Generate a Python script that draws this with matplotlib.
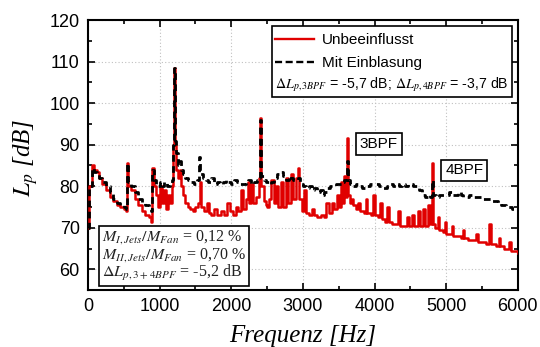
import numpy as np
import matplotlib
matplotlib.use("Agg")
import matplotlib.pyplot as plt
from matplotlib.lines import Line2D
from matplotlib.patches import Rectangle
from matplotlib.ticker import MultipleLocator

# Spektrum ohne Einblasung (rot)
freq_ref = [0, 20, 50, 80, 120, 160, 200, 250, 300, 350, 400, 450, 500, 530, 545, 560,
            600, 650, 700, 750, 800, 850, 880, 900, 920, 950, 970, 1000, 1030, 1060, 1090,
            1120, 1150, 1170, 1190, 1200, 1210, 1230, 1260, 1280, 1300, 1330, 1360, 1400,
            1430, 1470, 1500, 1530, 1560, 1580, 1620, 1660, 1690, 1720, 1760, 1800, 1850,
            1900, 1940, 1980, 2020, 2060, 2100, 2130, 2160, 2200, 2230, 2250, 2280, 2300,
            2340, 2380, 2400, 2420, 2450, 2480, 2500, 2530, 2560, 2590, 2620, 2650, 2690,
            2720, 2760, 2790, 2830, 2860, 2900, 2930, 2950, 2980, 3010, 3040, 3080, 3120,
            3150, 3200, 3250, 3290, 3320, 3360, 3400, 3430, 3470, 3500, 3530, 3560, 3580,
            3600, 3612, 3625, 3650, 3680, 3700, 3740, 3770, 3800, 3850, 3880, 3900, 3950,
            3980, 4000, 4050, 4080, 4100, 4150, 4180, 4200, 4250, 4300, 4320, 4350, 4400,
            4450, 4480, 4520, 4550, 4600, 4630, 4680, 4710, 4750, 4780, 4800, 4820, 4850,
            4880, 4900, 4950, 4980, 5000, 5050, 5080, 5100, 5150, 5200, 5230, 5250, 5300,
            5350, 5400, 5420, 5450, 5500, 5550, 5580, 5600, 5620, 5650, 5700, 5730, 5750,
            5800, 5850, 5880, 5900, 5950, 6000]
level_ref = [70, 80, 85, 84, 83.5, 82, 80.5, 79, 77.5, 76.5, 75.5, 75, 74.5, 74, 85.5, 80,
             79, 77, 75.5, 74, 73, 72.5, 71.5, 84.5, 80, 78, 75, 80, 76, 79, 74.5,
             78, 76, 80, 90, 108.5, 90, 84, 82, 84, 80, 78, 76, 75,
             74.5, 74, 75, 76, 81, 75, 74, 76, 73.5, 73, 74.5, 73, 74,
             73, 76, 74, 73, 75, 74, 79, 74.5, 77, 81, 76, 80.5, 76,
             77.5, 82, 96.5, 80, 76.5, 75.5, 75, 77, 81.5, 76, 80, 75, 81,
             75, 82, 76, 83, 77, 82, 84.5, 77, 74, 79, 73.5, 73, 74.5,
             73, 72.5, 73, 72.5, 76, 73.5, 76, 74.5, 78, 75, 81, 76, 82.5,
             77.5, 91.5, 78, 76, 77, 75.5, 74.5, 76, 74, 73.5, 77, 73.5, 73,
             78, 73, 72.5, 76, 72, 71.5, 75, 71.5, 71, 71, 74, 70.5, 70.5,
             72.5, 70.5, 73, 70.5, 74, 70.5, 74.5, 70.5, 75.5, 71, 85.7, 71, 70,
             72.5, 69.5, 69, 71.5, 68.5, 68.5, 70.5, 68, 68, 67.5, 69.5, 67.5, 67,
             67, 67, 68.5, 66.5, 66.5, 66, 66, 71, 66, 66, 65.5, 67.5, 65.5,
             65, 65, 66.5, 64.5, 64.5, 64]

# Spektrum mit Einblasung (schwarz gestrichelt)
freq_jet = [0, 20, 50, 80, 120, 160, 200, 250, 300, 350, 400, 450, 500, 530, 545, 560,
            600, 650, 700, 750, 800, 850, 880, 900, 920, 950, 1000, 1030, 1060, 1100, 1140,
            1170, 1190, 1200, 1210, 1230, 1260, 1280, 1300, 1330, 1360, 1400, 1440, 1480,
            1520, 1550, 1570, 1600, 1640, 1680, 1720, 1760, 1800, 1840, 1880, 1920, 1960,
            2000, 2040, 2080, 2120, 2160, 2200, 2240, 2280, 2320, 2360, 2390, 2400, 2420,
            2450, 2480, 2520, 2560, 2600, 2640, 2680, 2720, 2760, 2800, 2830, 2860, 2900,
            2930, 2960, 3000, 3040, 3080, 3120, 3160, 3200, 3240, 3280, 3300, 3340, 3380,
            3420, 3460, 3500, 3540, 3580, 3612, 3625, 3660, 3700, 3740, 3780, 3820, 3860,
            3900, 3940, 3980, 4020, 4060, 4100, 4140, 4180, 4220, 4260, 4300, 4340, 4380,
            4420, 4460, 4500, 4540, 4580, 4620, 4660, 4700, 4740, 4780, 4800, 4820, 4860,
            4900, 4940, 5000, 5040, 5080, 5120, 5160, 5200, 5240, 5280, 5320, 5360, 5400,
            5440, 5480, 5520, 5560, 5600, 5640, 5680, 5720, 5760, 5800, 5840, 5880, 5920,
            5960, 6000]
level_jet = [70, 80, 84.5, 83.5, 83, 82, 81, 80, 78.5, 77, 76, 75.5, 75, 74.5, 85.5, 81,
             80, 78.5, 77, 76, 75.5, 74.5, 74, 84, 81.5, 80, 81, 80, 81, 80, 80.5,
             81.5, 90, 108.5, 91, 88, 85, 86, 84, 83, 82, 81.5, 81, 80.5,
             81.5, 87, 83, 82, 81.5, 81, 82, 80.5, 81, 80.5, 81, 81.5, 81,
             80.5, 81.5, 81, 80.5, 80.5, 81, 81.5, 80.5, 81, 81.5, 82, 96, 82.5,
             81.5, 81, 80.5, 81, 82, 83, 83.5, 82.5, 81.5, 82.5, 82, 81.5, 81.5,
             82, 80.5, 80, 79.5, 80, 79, 79.5, 78.5, 79, 78, 78.5, 79.5, 80,
             80, 80.5, 80.5, 81, 81.5, 86, 81.5, 80.5, 80, 80.5, 80, 79.5, 79.5,
             80, 80.5, 80.5, 80.5, 80, 79.5, 79.5, 80, 80.5, 80, 80.5, 80, 80.5,
             80, 80.5, 80.5, 80, 80, 79, 78, 77.5, 78, 77.5, 81.5, 78, 77.5,
             78, 78, 78, 78.5, 78, 78, 78.5, 78, 77.5, 77.5, 78, 77.5, 77.5,
             77.5, 77.5, 77, 77, 77, 76.5, 76.5, 76, 75.5, 75.5, 75, 75, 74.5,
             74.5, 74]

x_ticks = [0, 1000, 2000, 3000, 4000, 5000, 6000]
y_ticks = [60, 70, 80, 90, 100, 110, 120]

plt.rcParams["mathtext.fontset"] = "stix"
plt.rcParams["font.family"] = ["Liberation Sans", "DejaVu Sans"]

fig = plt.figure(figsize=(5.4, 3.47), dpi=100)
ax = fig.add_axes([0.163, 0.164, 0.796, 0.778])

ax.plot(freq_ref, level_ref, color="#e00000", lw=1.8, drawstyle="steps-post", zorder=3)
ax.plot(freq_jet, level_jet, color="black", lw=2.0, ls=(0, (2.4, 1.6)),
        drawstyle="steps-post", zorder=4)

ax.set_xlim(0, 6000)
ax.set_ylim(55, 120)
ax.set_xticks(x_ticks)
ax.set_yticks(y_ticks)
ax.xaxis.set_minor_locator(MultipleLocator(500))
ax.yaxis.set_minor_locator(MultipleLocator(5))
ax.tick_params(which="both", direction="in", top=True, right=True, width=1.2)
ax.tick_params(which="major", length=5, labelsize=13, pad=6)
ax.tick_params(which="minor", length=3)
for sp in ax.spines.values():
    sp.set_linewidth(1.5)
ax.grid(True, which="major", color="#c0c0c0", ls=(0, (1, 2)), lw=0.8)

ax.set_xlabel("Frequenz [Hz]", family="Liberation Serif", style="italic", fontsize=18)
ax.xaxis.set_label_coords(0.5, -0.128)
ax.set_ylabel(r"$L_p$ [dB]", family="Liberation Serif", style="italic", fontsize=18)
ax.yaxis.set_label_coords(-0.112, 0.49)

# Legendenrahmen mit drei Zeilen
ax.add_patch(Rectangle((0.428, 0.715), 0.558, 0.263, transform=ax.transAxes,
                       facecolor="white", edgecolor="black", lw=1.2, zorder=5))
handles = [Line2D([], [], color="#e00000", lw=1.7),
           Line2D([], [], color="black", lw=1.7, ls=(0, (3, 1.5)))]
leg = ax.legend(handles, ["Unbeeinflusst", "Mit Einblasung"], loc="upper left",
                bbox_to_anchor=(0.42, 0.975), frameon=False, fontsize=11,
                handlelength=2.6, handletextpad=0.5, labelspacing=0.62,
                borderaxespad=0)
leg.set_zorder(6)
ax.text(0.435, 0.762, r"$\Delta L_{p,3BPF}$ = -5,7 dB; $\Delta L_{p,4BPF}$ = -3,7 dB",
        transform=ax.transAxes, fontsize=10.2, va="center", ha="left", zorder=7)

ax.text(4059, 90.1, "3BPF", fontsize=11, ha="center", va="center", zorder=7,
        bbox=dict(boxstyle="square,pad=0.25", fc="white", ec="black", lw=1.2))
ax.text(5251, 83.8, "4BPF", fontsize=11, ha="center", va="center", zorder=7,
        bbox=dict(boxstyle="square,pad=0.25", fc="white", ec="black", lw=1.2))

ax.text(0.032, 0.128,
        r"$M_{I,Jets}/M_{Fan}$ = 0,12 %" "\n"
        r"$M_{II,Jets}/M_{Fan}$ = 0,70 %" "\n"
        r"$\Delta L_{p,3+4BPF}$ = -5,2 dB",
        transform=ax.transAxes, family="Liberation Serif", fontsize=11.5,
        va="center", ha="left", linespacing=0.95, zorder=7, color="#222222",
        bbox=dict(boxstyle="square,pad=0.18", fc="white", ec="black", lw=1.2))

fig.savefig("out.png", dpi=100)
